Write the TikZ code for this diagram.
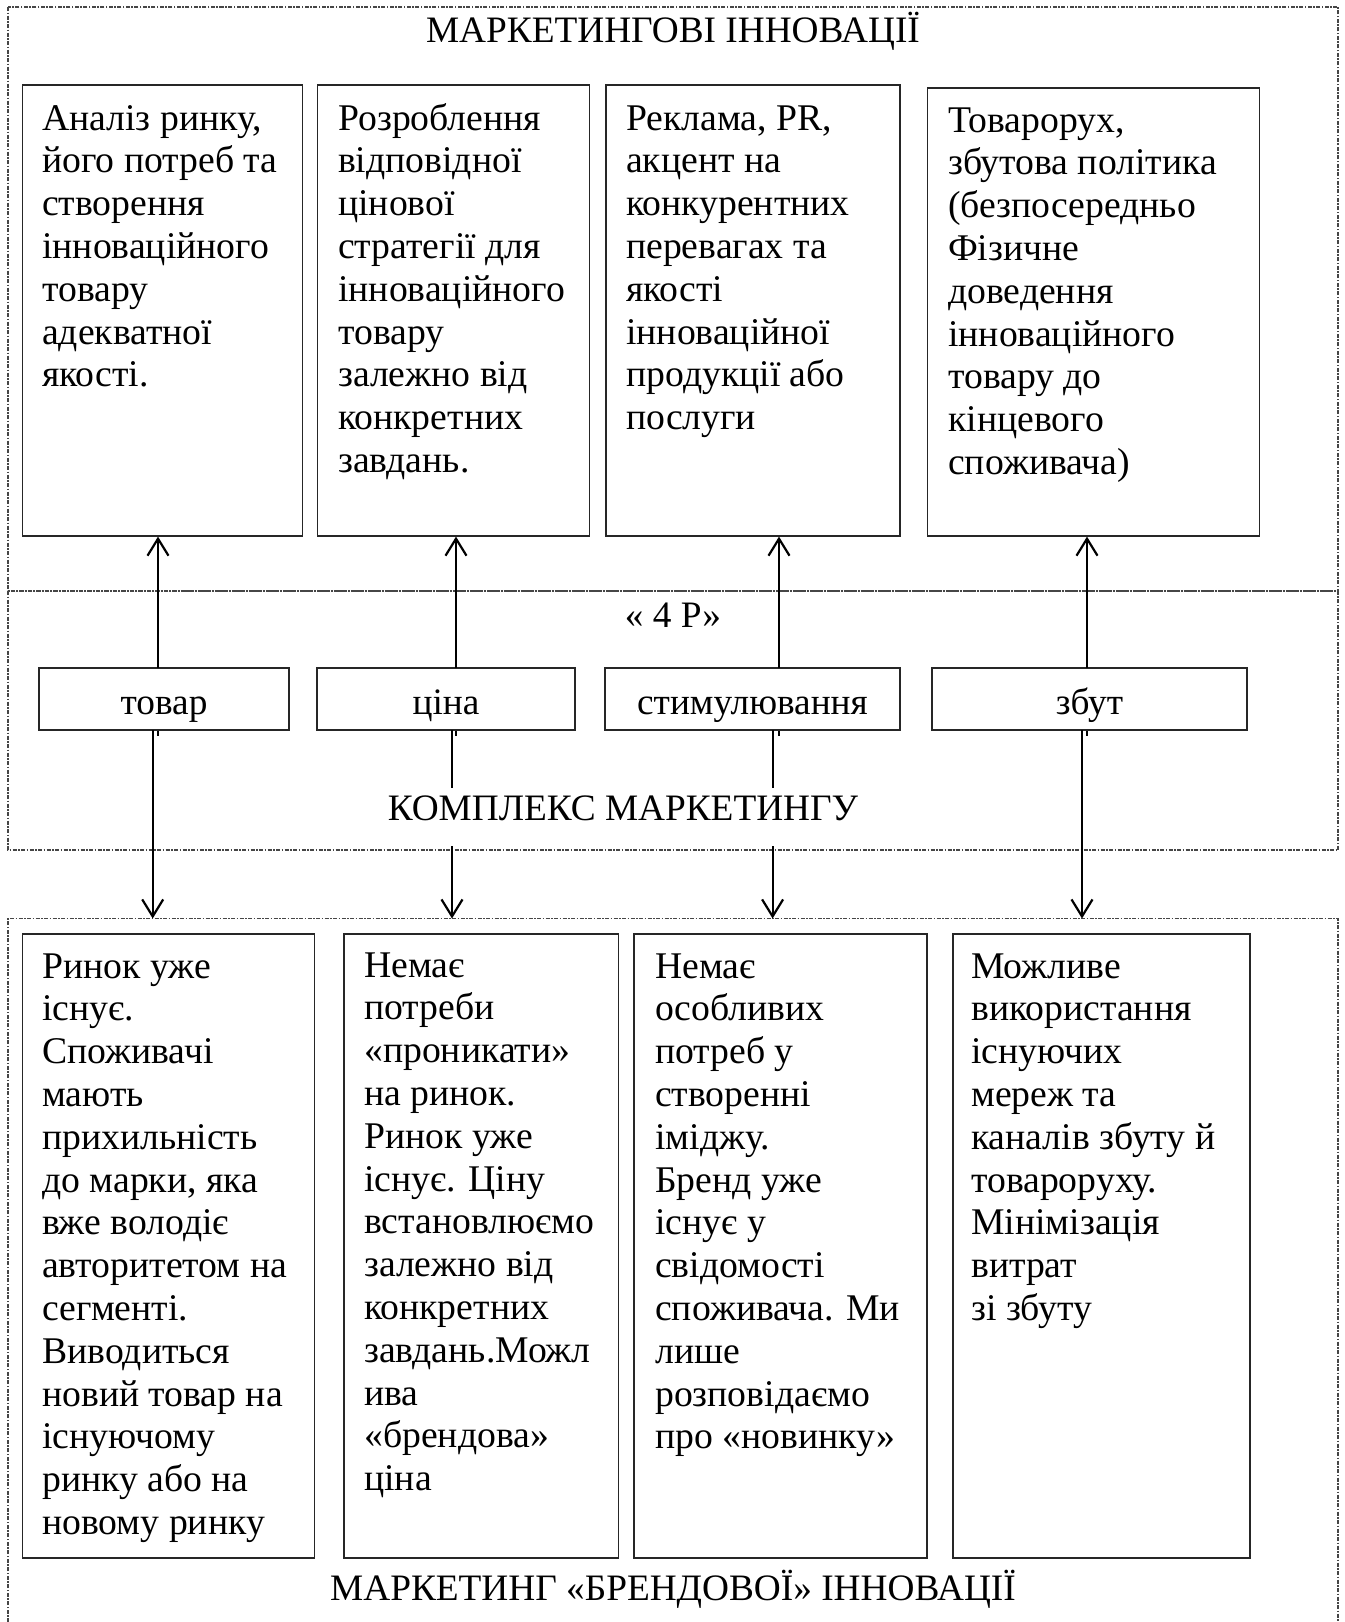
\documentclass[tikz,border=0pt]{standalone}
\usepackage{fontspec}
\setmainfont{Liberation Serif}
\usetikzlibrary{arrows.meta,calc}
\newcommand\boxlines[1]{\begin{tabular}[t]{@{}l@{}}#1\end{tabular}}
\begin{document}
\begin{tikzpicture}[x=1pt,y=1pt,
  frame/.style={draw=gray!55!black, line width=1.2pt, dash pattern=on 4pt off 1.5pt on 1.5pt off 1.5pt},
  bx/.style={draw=black!85, line width=1.6pt, inner sep=0pt, anchor=north west},
  txt/.style={inner sep=0pt, anchor=base west, font=\fontsize{37.7}{42.8}\selectfont},
  pbox/.style={draw=black!85, line width=1.6pt, inner sep=0pt, minimum height=62pt,
               text height=30pt, text depth=0pt, font=\fontsize{37.3}{42.8}\selectfont},
  ttl/.style={inner sep=0pt, anchor=base, font=\fontsize{37.3}{42.8}\selectfont},
  arr/.style={line width=2.2pt, -{Straight Barb[length=17pt,width=21pt,line width=2.2pt]}},
  ln/.style={line width=2.2pt},
  tick/.style={line width=2pt}
]
\useasboundingbox (0,0) rectangle (1344,-1622);
% frames
\draw[frame] (8,-7) rectangle (1338,-591);
\draw[frame] (8,-591) rectangle (1338,-850);
\draw[frame] (8,-1622) -- (8,-918.5) -- (1338,-918.5) -- (1338,-1622);
\coordinate (bf) at (673,-918.5);

% titles
\node[ttl] (title1) at (673,-42) {МАРКЕТИНГОВІ ІННОВАЦІЇ};
\node[ttl] (title2) at (673,-627) {« 4 Р»};
\node[ttl] (title3) at (623,-820) {КОМПЛЕКС МАРКЕТИНГУ};
\node[ttl] (title4) at (673,-1600) {МАРКЕТИНГ «БРЕНДОВОЇ» ІННОВАЦІЇ};

% top boxes
\node[bx, minimum width=279.8pt, minimum height=451pt] (t1) at (21.7,-84) {};
\node[bx, minimum width=272pt, minimum height=451pt] (t2) at (316.6,-84) {};
\node[bx, minimum width=294pt, minimum height=451pt] (t3) at (605,-84) {};
\node[bx, minimum width=332pt, minimum height=448pt] (t4) at (926.7,-87) {};

\node[txt] (t1t) at (42,-130) {\boxlines{Аналіз ринку,\\ його потреб та\\ створення\\ інноваційного\\ товару\\ адекватної\\ якості.}};
\node[txt] (t2t) at (338,-130) {\boxlines{Розроблення\\ відповідної\\ цінової\\ стратегії для\\ інноваційного\\ товару\\ залежно від\\ конкретних\\ завдань.}};
\node[txt] (t3t) at (626,-130) {\boxlines{Реклама, PR,\\ акцент на\\ конкурентних\\ перевагах та\\ якості\\ інноваційної\\ продукції або\\ послуги}};
\node[txt] (t4t) at (948,-132) {\boxlines{Товарорух,\\ збутова політика\\ (безпосередньо\\ Фізичне\\ доведення\\ інноваційного\\ товару до\\ кінцевого\\ споживача)}};

% 4P boxes
\node[pbox, minimum width=249.5pt] (p1) at (164,-699) {товар};
\node[pbox, minimum width=258pt] (p2) at (446,-699) {ціна};
\node[pbox, minimum width=295pt] (p3) at (752.5,-699) {стимулювання};
\node[pbox, minimum width=315pt] (p4) at (1089.5,-699) {збут};

% bottom boxes
\node[bx, minimum width=291.8pt, minimum height=624pt] (b1) at (21.7,-933) {};
\node[bx, minimum width=274.7pt, minimum height=624pt] (b2) at (343,-933) {};
\node[bx, minimum width=293pt, minimum height=624pt] (b3) at (633,-933) {};
\node[bx, minimum width=297pt, minimum height=624pt] (b4) at (952,-933) {};

\node[txt] (b1t) at (42,-978) {\boxlines{Ринок уже\\ існує.\\ Споживачі\\ мають\\ прихильність\\ до марки, яка\\ вже володіє\\ авторитетом на\\ сегменті.\\ Виводиться\\ новий товар на\\ існуючому\\ ринку або на\\ новому ринку}};
\node[txt] (b2t) at (364,-977) {\boxlines{Немає\\ потреби\\ «проникати»\\ на ринок.\\ Ринок уже\\ існує. Ціну\\ встановлюємо\\ залежно від\\ конкретних\\ завдань.Можл\\ ива\\ «брендова»\\ ціна}};
\node[txt] (b3t) at (655,-978) {\boxlines{Немає\\ особливих\\ потреб у\\ створенні\\ іміджу.\\ Бренд уже\\ існує у\\ свідомості\\ споживача. Ми\\ лише\\ розповідаємо\\ про «новинку»}};
\node[txt] (b4t) at (971,-978) {\boxlines{Можливе\\ використання\\ існуючих\\ мереж та\\ каналів збуту й\\ товароруху.\\ Мінімізація\\ витрат\\ зі збуту}};

% up arrows
\coordinate (u1) at (158,-668);
\coordinate (u2) at (456,-668);
\coordinate (u3) at (779,-668);
\coordinate (u4) at (1087,-668);
\draw[arr] (u1) -- (u1 |- t1.south);
\draw[arr] (u2) -- (u2 |- t2.south);
\draw[arr] (u3) -- (u3 |- t3.south);
\draw[arr] (u4) -- (u4 |- t4.south);
% small ticks below the 4P boxes
\draw[tick] (u1 |- p1.south) -- ++(0,-5);
\draw[tick] (u2 |- p2.south) -- ++(0,-5);
\draw[tick] (u3 |- p3.south) -- ++(0,-5);
\draw[tick] (u4 |- p4.south) -- ++(0,-5);

% down arrows
\coordinate (d1) at (152.7,-730);
\coordinate (d2) at (452,-730);
\coordinate (d3) at (772.6,-730);
\coordinate (d4) at (1082,-730);
\draw[arr] (d1) -- (d1 |- bf);
\draw[ln] (d2) -- ++(0,-58);
\draw[arr] ($(d2)+(0,-116)$) -- (d2 |- bf);
\draw[ln] (d3) -- ++(0,-58);
\draw[arr] ($(d3)+(0,-116)$) -- (d3 |- bf);
\draw[arr] (d4) -- (d4 |- bf);
\end{tikzpicture}
\end{document}
